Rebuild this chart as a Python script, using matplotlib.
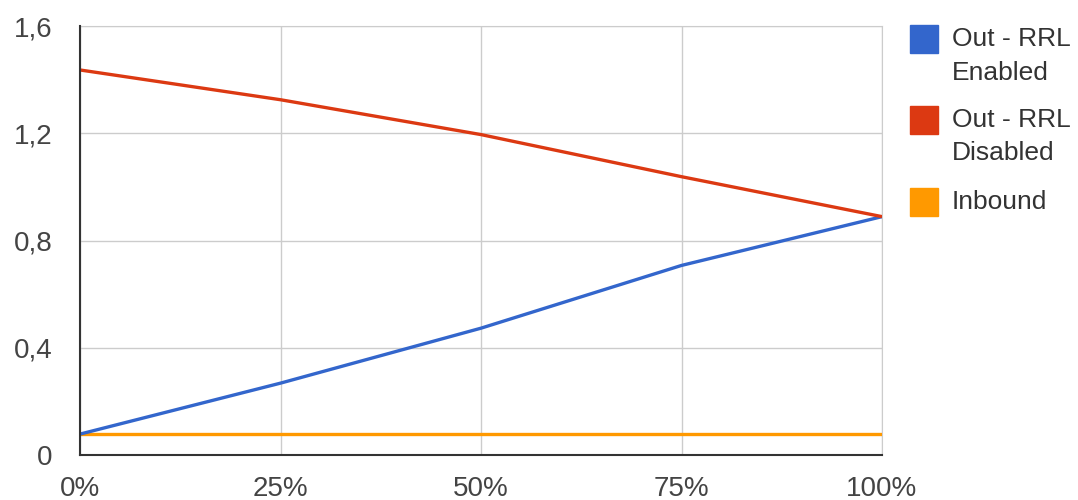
import matplotlib
matplotlib.use('Agg')
import matplotlib.pyplot as plt
from matplotlib.patches import Rectangle
from matplotlib.ticker import FuncFormatter

# load share (%) vs. value
x_pct = [0, 25, 50, 75, 100]
rrl_enabled = [0.078, 0.268, 0.473, 0.707, 0.889]
rrl_disabled = [1.436, 1.325, 1.195, 1.038, 0.889]
inbound = [0.078, 0.078, 0.078, 0.078, 0.078]

labels = ['Out - RRL\nEnabled', 'Out - RRL\nDisabled', 'Inbound']
colors = ['#3366cc', '#dc3912', '#ff9900']
y_ticks = [0, 0.4, 0.8, 1.2, 1.6]

plt.rcParams['font.family'] = ['Liberation Sans', 'DejaVu Sans']

W, H = 1078, 500
fig = plt.figure(figsize=(W / 100, H / 100), dpi=100)
ax = fig.add_axes([80 / W, 45 / H, 802 / W, 429 / H])

for ys, c in zip([inbound, rrl_enabled, rrl_disabled], [colors[2], colors[0], colors[1]]):
    ax.plot(x_pct, ys, color=c, lw=2.4, solid_capstyle='butt', zorder=3)

ax.set_xlim(0, 100)
ax.set_ylim(0, 1.6)
ax.set_xticks(x_pct)
ax.set_yticks(y_ticks)
ax.xaxis.set_major_formatter(FuncFormatter(lambda v, p: f'{v:.0f}%'))
ax.yaxis.set_major_formatter(FuncFormatter(lambda v, p: '0' if v == 0 else f'{v:.1f}'.replace('.', ',')))
ax.tick_params(length=0, labelsize=20, labelcolor='#444444')
ax.tick_params(axis='y', pad=20)
ax.tick_params(axis='x', pad=15)
ax.grid(True, color='#cccccc', lw=1)
for s in ['top', 'right']:
    ax.spines[s].set_color('#cccccc')
for s in ['left', 'bottom']:
    ax.spines[s].set_color('#333333')
    ax.spines[s].set_linewidth(1.5)
    ax.spines[s].set_zorder(4)

# legend drawn by hand: swatch aligned with the first text line
for i, (lab, c) in enumerate(zip(labels, colors)):
    yc = [39, 120, 202][i]
    fig.patches.append(Rectangle((910 / W, 1 - (yc + 14) / H), 28 / W, 28 / H,
                                 transform=fig.transFigure, color=c))
    fig.text(952 / W, 1 - (yc - 12) / H, lab, va='top', ha='left', fontsize=19,
             color='#333333', linespacing=1.5)

fig.savefig('out.png', dpi=100)
